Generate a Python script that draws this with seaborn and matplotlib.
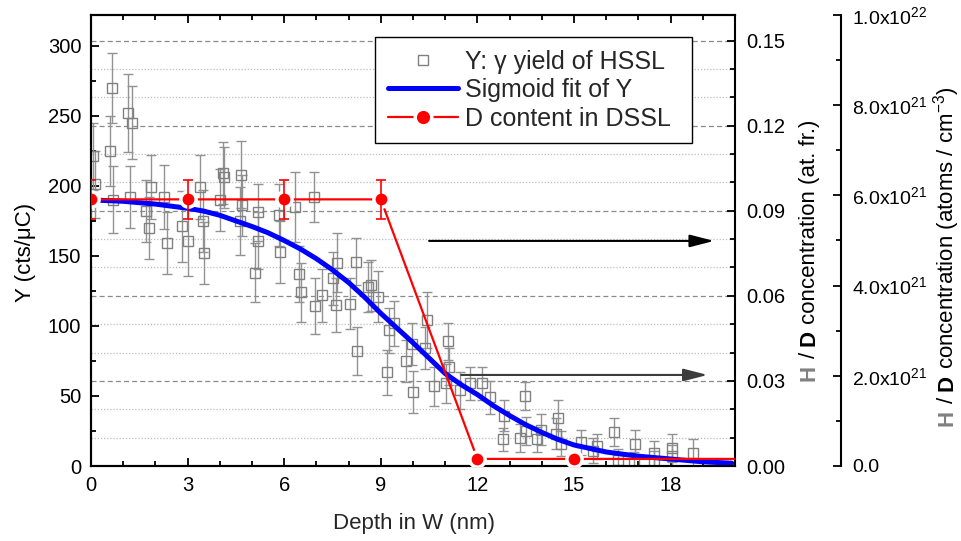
import numpy as np
import matplotlib
matplotlib.use("Agg")
import matplotlib.pyplot as plt
import matplotlib.transforms as mtransforms
from matplotlib.lines import Line2D
from matplotlib.ticker import MultipleLocator, FuncFormatter
import seaborn as sns

sns.set_style("ticks")
plt.rcParams["font.family"] = ["Liberation Sans", "DejaVu Sans"]
plt.rcParams["mathtext.fontset"] = "custom"
plt.rcParams["mathtext.rm"] = "Liberation Sans"
plt.rcParams["mathtext.default"] = "regular"

# ---------------------------------------------------------------------
# Data
# ---------------------------------------------------------------------
# gamma yield of HSSL, Y (cts/uC) vs depth (nm)
depth_y = [0.05, 0.12, 0.59, 0.65, 0.67, 1.16, 1.22, 1.27, 1.72, 1.80, 1.85, 2.27, 2.35,
           2.84, 3.00, 3.38, 3.47, 3.52, 4.02, 4.09, 4.14, 4.62, 4.67, 4.69, 5.09, 5.19,
           5.19, 5.84, 5.87, 6.32, 6.46, 6.52, 6.93, 6.96, 7.17, 7.53, 7.60, 7.65, 8.05,
           8.22, 8.26, 8.61, 8.71, 8.90, 9.18, 9.27, 9.42, 9.78, 9.96, 9.99, 10.38, 10.43,
           10.64, 11.03, 11.08, 11.13, 11.47, 11.78, 12.14, 12.38, 12.82, 12.79, 13.31,
           13.47, 13.52, 13.86, 13.97, 14.43, 14.49, 14.60, 15.23, 15.60, 15.70, 16.25,
           16.36, 16.87, 16.90, 17.49, 17.49, 18.04, 18.04, 18.71]
yield_y = [221, 201, 225, 270, 190, 252, 192, 245, 182, 170, 199, 192, 159,
           171, 161, 199, 175, 152, 190, 209, 206, 175, 208, 186, 138, 181,
           161, 179, 153, 185, 137, 124, 192, 114, 122, 134, 115, 145, 116,
           146, 82, 128, 129, 121, 67, 97, 102, 75, 87, 53, 84, 104,
           57, 59, 89, 71, 54, 59, 59, 49, 36, 19, 20,
           50, 25, 19, 26, 23, 34, 16, 17, 11, 14, 24,
           4, 2, 16, 9, 3, 13, 7, 9]
yield_err = [24, 24, 25, 25, 24, 28, 22, 26, 22, 22, 23, 23, 22,
             25, 25, 23, 22, 22, 22, 22, 22, 24, 24, 22, 21, 20,
             20, 22, 22, 25, 20, 21, 18, 20, 19, 19, 19, 21, 18,
             17, 17, 18, 18, 18, 16, 16, 16, 15, 15, 15, 15, 20,
             14, 14, 13, 13, 13, 12, 12, 12, 11, 8, 10,
             10, 10, 9, 11, 11, 13, 9, 9, 9, 9, 10,
             8, 8, 10, 9, 8, 10, 8, 10]

# sigmoid fit of Y
fit_depth = [0, 1, 2, 3, 3.5, 4, 4.5, 5, 5.5, 6, 6.5, 7, 7.5, 8, 8.5, 9, 9.5, 10, 10.5,
             11, 11.5, 12, 12.5, 13, 13.5, 14, 14.5, 15, 16, 17, 18, 19, 19.9]
fit_yield = [190, 189, 187, 184, 182, 179, 175, 171, 166.5, 161, 155, 148, 140, 131, 120.5,
             109, 98.5, 88, 77, 66, 58, 51, 43, 36, 29.5, 24, 19, 15, 10, 7, 5, 3, 2]

# D content in DSSL (at. fr.)
depth_d = [0, 3, 6, 9, 12, 15, 21]
d_frac = [0.094, 0.094, 0.094, 0.094, 0.0025, 0.0025, 0.0025]
d_err = [0.007, 0.007, 0.007, 0.007, 0.0, 0.0, 0.0]

# arrows pointing to the right-hand axes: (x start, x end, y in cts/uC)
arrow_black = (10.5, 19.35, 160.7)
arrow_grey = (11.5, 19.15, 65.0)

GREY = "#808080"
BLUE = "#0000ff"
RED = "#ff0000"
TICK_SIZE = 14.5

# ---------------------------------------------------------------------
# Figure / axes
# ---------------------------------------------------------------------
fig = plt.figure(figsize=(9.62, 5.41), dpi=100)
fig.patch.set_facecolor("white")
pos = [91 / 962, 75 / 541, 644 / 962, 451 / 541]

# background axes only carrying the grid of the at. fr. scale
ax_grid = fig.add_axes(pos, zorder=0)
ax_grid.set_xlim(0, 20)
ax_grid.set_ylim(0, 0.159)
ax_grid.yaxis.set_major_locator(MultipleLocator(0.03))
ax_grid.yaxis.set_minor_locator(MultipleLocator(0.01))
ax_grid.grid(axis="y", which="major", color="#8a8a8a", linestyle=(0, (4, 2.5)), linewidth=0.9)
ax_grid.grid(axis="y", which="minor", color="#bdbdbd", linestyle=(0, (1, 1.5)), linewidth=0.9)
ax_grid.grid(axis="x", visible=False)
ax_grid.tick_params(which="both", length=0, labelleft=False, labelbottom=False)
for s in ax_grid.spines.values():
    s.set_visible(False)

ax = fig.add_axes(pos, zorder=1)
ax.patch.set_visible(False)
ax2 = ax.twinx()
ax2.set_zorder(2)
ax3 = ax.twinx()
ax3.set_zorder(3)
ax3.patch.set_visible(False)

# --- Y yield with error bars
ax.errorbar(depth_y, yield_y, yerr=yield_err, fmt="s", mfc="none", mec=GREY, ms=7, mew=1.0,
            ecolor="#929292", elinewidth=1.0, capsize=3.5, capthick=1.0, zorder=2)
# --- sigmoid fit
sns.lineplot(x=fit_depth, y=fit_yield, ax=ax, color=BLUE, linewidth=3.6, zorder=3)

ax.set_xlim(0, 20)
ax.set_ylim(0, 322)
ax.set_xticks(range(0, 19, 3))
ax.xaxis.set_minor_locator(MultipleLocator(1))
ax.set_yticks(range(0, 301, 50))
ax.yaxis.set_minor_locator(MultipleLocator(25))
ax.set_xlabel("")
ax.set_ylabel("")

# --- D content (right axis, at. fr.)
sns.lineplot(x=depth_d, y=d_frac, ax=ax2, color=RED, linewidth=1.6, marker="o", markersize=11,
             markeredgecolor="white", markeredgewidth=2.5, markerfacecolor=RED, zorder=4)
ax2.errorbar(depth_d, d_frac, yerr=d_err, fmt="none", ecolor=RED, elinewidth=1.2,
             capsize=3.5, capthick=1.2, zorder=5)
ax2.set_ylim(0, 0.159)
ax2.yaxis.set_major_locator(MultipleLocator(0.03))
ax2.yaxis.set_minor_locator(MultipleLocator(0.01))
ax2.yaxis.set_major_formatter(FuncFormatter(lambda v, p: f"{v:.2f}"))
ax2.set_xlim(0, 20)
ax2.set_ylabel("")

# --- third axis (atoms / cm^3)
ax3.set_ylim(0, 1e22)
ax3.yaxis.set_major_locator(MultipleLocator(2e21))
ax3.yaxis.set_minor_locator(MultipleLocator(1e21))


def sci_fmt(v, p):
    if v <= 0:
        return "0.0"
    e = int(np.floor(np.log10(v) + 1e-9))
    m = v / 10 ** e
    return rf"$\mathregular{{{m:.1f}x10^{{{e}}}}}$"


ax3.yaxis.set_major_formatter(FuncFormatter(sci_fmt))
ax3.spines["right"].set_position(("axes", (841 - 91) / 644))
for name in ["left", "top", "bottom"]:
    ax3.spines[name].set_visible(False)

# styling of spines / ticks
for a in (ax, ax2, ax3):
    for s in a.spines.values():
        s.set_linewidth(1.5)
        s.set_color("black")
for a in (ax, ax2):
    a.spines["right"].set_visible(a is ax2)
ax.tick_params(axis="both", which="both", direction="in", top=True, right=False,
               labelsize=TICK_SIZE, width=1.3, pad=7, colors="black")
ax.tick_params(which="major", length=6)
ax.tick_params(which="minor", length=3.5)
for a, lsize in ((ax2, TICK_SIZE), (ax3, 14)):
    a.tick_params(axis="y", which="both", direction="in", labelsize=lsize, width=1.3,
                  pad=8, colors="black")
    a.tick_params(which="major", length=6)
    a.tick_params(which="minor", length=3.5)

# arrows
for (x0, x1, yv), col in [(arrow_black, "black"), (arrow_grey, "#3c3c3c")]:
    ax.annotate("", xy=(x1, yv), xytext=(x0, yv),
                arrowprops=dict(arrowstyle="-|>,head_length=1.05,head_width=0.27",
                                color=col, lw=1.5, shrinkA=0, shrinkB=0, mutation_scale=14),
                zorder=6)

# legend
handles = [
    Line2D([], [], ls="none", marker="s", mfc="none", mec=GREY, ms=7, mew=1.0),
    Line2D([], [], color=BLUE, lw=3.6),
    Line2D([], [], color=RED, lw=1.6, marker="o", ms=12, mfc=RED, mec="white", mew=2.5),
]
labels = ["Y: γ yield of HSSL", "Sigmoid fit of Y", "D content in DSSL"]
leg_x0 = (375 - 91) / 644
leg_x1 = (692 - 91) / 644
leg_y1 = (466 - 37) / 451
leg = ax3.legend(handles, labels, loc="upper left",
                 bbox_to_anchor=(leg_x0, leg_y1 - 0.3, leg_x1 - leg_x0, 0.3), mode="expand",
                 borderaxespad=0, fontsize=18, frameon=True, fancybox=False, framealpha=1,
                 edgecolor="black", borderpad=0.5, labelspacing=0.18, handlelength=2.8,
                 handletextpad=0.3)
leg.get_frame().set_linewidth(1.0)

# ---------------------------------------------------------------------
# Axis labels (built from pieces so H / D can be coloured)
# ---------------------------------------------------------------------
ident = mtransforms.IdentityTransform()


def vertical_label(x_px, yc_px, parts, size=16, gap=0.28):
    texts = []
    for s, color, weight in parts:
        t = fig.text(0, 0, s, rotation=90, rotation_mode="anchor", ha="left", va="baseline",
                     fontsize=size, color=color, fontweight=weight, transform=ident)
        texts.append(t)
    renderer = fig.canvas.get_renderer()
    lens = [t.get_window_extent(renderer).height for t in texts]
    space = gap * size * fig.dpi / 72
    total = sum(lens) + space * (len(texts) - 1)
    y = yc_px - total / 2
    for t, L in zip(texts, lens):
        t.set_position((x_px, y))
        y += L + space


fig.text(414, 12, "Depth in W (nm)", ha="center", va="baseline", fontsize=16, transform=ident)
vertical_label(31, 541 - 252, [("Y (cts/μC)", "black", "normal")])
vertical_label(815, 541 - 250, [("H", GREY, "bold"), ("/", "black", "normal"),
                                ("D", "black", "bold"),
                                ("concentration (at. fr.)", "black", "normal")])
vertical_label(953, 541 - 256, [("H", GREY, "bold"), ("/", "black", "normal"),
                                ("D", "black", "bold"),
                                ("concentration (atoms / cm$^{-3}$)", "black", "normal")])

fig.savefig("out.png", dpi=100)
